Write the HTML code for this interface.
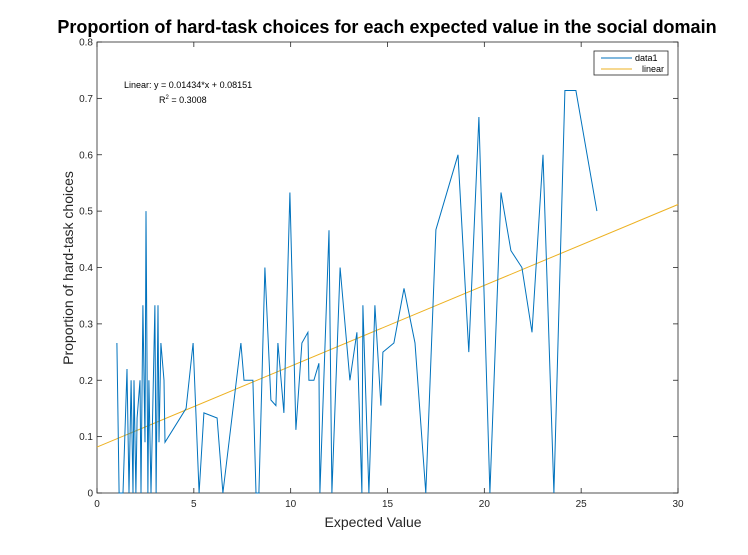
<!DOCTYPE html>
<html><head><meta charset="utf-8"><style>
body{margin:0;background:#fff;}
svg{display:block;font-family:"Liberation Sans",Arial,sans-serif;}
</style></head><body>
<svg id="chart" width="748" height="555">
<rect width="748" height="555" fill="#fff"/>
<text x="387" y="33" text-anchor="middle" font-size="18" font-weight="bold">Proportion of hard-task choices for each expected value in the social domain</text>
<text x="373" y="527" text-anchor="middle" font-size="14" fill="#262626">Expected Value</text>
<text transform="translate(73,268) rotate(-90)" text-anchor="middle" font-size="14" fill="#262626">Proportion of hard-task choices</text>
<g id="axes"></g>
<g id="marks"></g>
<text x="124" y="88" font-size="9">Linear:  y = 0.01434*x + 0.08151</text>
<text x="159" y="103" font-size="9">R<tspan dy="-4" font-size="6">2</tspan><tspan dy="4"> = 0.3008</tspan></text>
<g>
<rect x="594" y="51" width="74" height="24" fill="#fff" stroke="#262626" stroke-width="0.8"/>
<line x1="601" y1="58" x2="632" y2="58" stroke="#0072bd"/>
<text x="635" y="61" font-size="9">data1</text>
<line x1="601" y1="69" x2="632" y2="69" stroke="#edb120"/>
<text x="642" y="72" font-size="9">linear</text>
</g>
</svg>
<script>
const xValues=[1.03,1.14,1.34,1.55,1.65,1.76,1.86,1.91,2.01,2.07,2.22,2.27,2.37,2.48,2.53,2.63,2.68,2.79,2.99,3.05,3.15,3.2,3.3,3.46,3.51,4.6,4.96,5.27,5.52,6.2,6.5,7.43,7.59,8.05,8.21,8.36,8.67,8.98,9.24,9.34,9.65,9.96,10.27,10.58,10.89,10.94,11.2,11.46,11.51,11.98,12.13,12.55,13.06,13.42,13.68,13.73,14.04,14.35,14.66,14.76,15.33,15.85,16.42,16.98,17.5,18.64,19.2,19.72,20.29,20.86,21.37,21.94,22.46,23.03,23.59,24.16,24.73,25.81];
const yValues=[0.266,0,0,0.22,0,0.2,0,0.2,0,0.133,0.2,0,0.333,0.09,0.5,0,0.2,0,0.333,0,0.333,0.09,0.266,0.2,0.09,0.15,0.266,0,0.142,0.133,0,0.266,0.2,0.2,0,0,0.4,0.165,0.155,0.266,0.142,0.533,0.112,0.266,0.285,0.2,0.2,0.23,0,0.466,0,0.4,0.2,0.285,0,0.333,0,0.333,0.155,0.25,0.266,0.363,0.266,0,0.467,0.6,0.25,0.667,0,0.533,0.43,0.4,0.285,0.6,0,0.714,0.714,0.5];
const fitSlope=0.01434, fitIntercept=0.08151;
const xTicks=[0,5,10,15,20,25,30];
const yTicks=[0,0.1,0.2,0.3,0.4,0.5,0.6,0.7,0.8];
const L=97,R=678,T=42,B=493;
const sx=v=>L+(v-0)/30*(R-L);
const sy=v=>B-(v/0.8)*(B-T);
const NS='http://www.w3.org/2000/svg';
function mk(tag,attrs,parent){const e=document.createElementNS(NS,tag);for(const k in attrs)e.setAttribute(k,attrs[k]);parent.appendChild(e);return e;}
const ax=document.getElementById('axes'), mg=document.getElementById('marks');
const box=mk('rect',{x:L,y:T,width:R-L,height:B-T,fill:'none',stroke:'#262626','stroke-width':0.8},ax);


xTicks.forEach(t=>{const x=sx(t);
 mk('line',{x1:x,y1:B,x2:x,y2:B-5,stroke:'#262626','stroke-width':0.8},ax);
 mk('line',{x1:x,y1:T,x2:x,y2:T+5,stroke:'#262626','stroke-width':0.8},ax);
 const tx=mk('text',{x:x,y:B+14,'text-anchor':'middle','font-size':10,fill:'#262626'},ax);tx.textContent=t;
 
 });
yTicks.forEach(t=>{const y=sy(t);
 mk('line',{x1:L,y1:y,x2:L+5,y2:y,stroke:'#262626','stroke-width':0.8},ax);
 mk('line',{x1:R,y1:y,x2:R-5,y2:y,stroke:'#262626','stroke-width':0.8},ax);
 const tx=mk('text',{x:L-4,y:y+3.5,'text-anchor':'end','font-size':10,fill:'#262626'},ax);tx.textContent=t;
 
 });
const fit=mk('line',{x1:sx(0),y1:sy(fitIntercept),x2:sx(30),y2:sy(fitIntercept+fitSlope*30),stroke:'#edb120','stroke-width':1},mg);


const d=xValues.map((x,i)=>(i?'L':'M')+sx(x).toFixed(1)+','+sy(yValues[i]).toFixed(1)).join(' ');
const ln=mk('path',{d:d,fill:'none',stroke:'#0072bd','stroke-width':1},mg);


</script>
</body></html>
